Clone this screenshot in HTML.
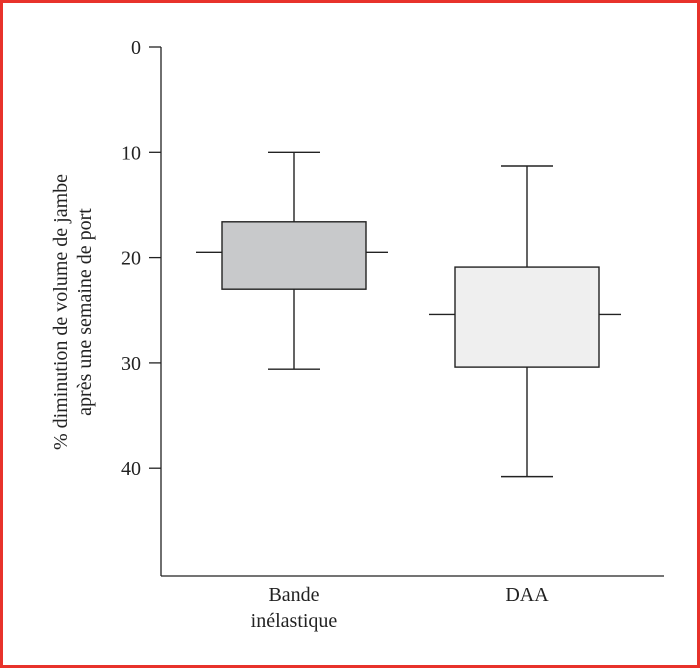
<!DOCTYPE html>
<html><head><meta charset="utf-8"><style>
body{margin:0;background:#fff}
#wrap{position:relative;width:700px;height:668px;box-sizing:border-box;border:3px solid #e8322b;background:#fff}
svg{position:absolute;left:0;top:0}
text{font-family:"Liberation Serif",serif;fill:#222}
</style></head><body>
<div id="wrap">
<svg id="c" width="700" height="668"></svg>
</div>
<script>
const categories = [["Bande","inélastique"],["DAA"]];
const whiskerLow = [10, 11.3];
const q1 = [16.6, 20.9];
const median = [19.5, 25.4];
const q3 = [23.0, 30.4];
const whiskerHigh = [30.6, 40.8];
const fills = ["#c8c9cb","#efefef"];
const yTicks = [0,10,20,30,40];

const NS="http://www.w3.org/2000/svg";
const svg=document.getElementById('c');
const y0=44, pxPer=10.53, axisX=158, axisBottom=573;
const y=v=>y0+v*pxPer;
const xc=i=>291+i*233;
function mk(tag,attrs){const e=document.createElementNS(NS,tag);for(const k in attrs)e.setAttribute(k,attrs[k]);svg.appendChild(e);return e;}

let e=mk('line',{x1:axisX,y1:y0,x2:axisX,y2:axisBottom,stroke:'#222','stroke-width':1.3});


e=mk('line',{x1:axisX,y1:axisBottom,x2:661,y2:axisBottom,stroke:'#222','stroke-width':1.3});



yTicks.forEach(t=>{
  let l=mk('line',{x1:146,y1:y(t),x2:axisX,y2:y(t),stroke:'#222','stroke-width':1.3});
  
  
  let tx=mk('text',{x:138,y:y(t)+7,'text-anchor':'end','font-size':20});
  tx.textContent=t;
  
  
});

let yt=mk('text',{transform:'translate(64,309) rotate(-90)','text-anchor':'middle','font-size':20});


let s1=document.createElementNS(NS,'tspan');s1.setAttribute('x',0);s1.setAttribute('dy',0);s1.textContent='% diminution de volume de jambe';yt.appendChild(s1);
let s2=document.createElementNS(NS,'tspan');s2.setAttribute('x',0);s2.setAttribute('dy',24);s2.textContent='après une semaine de port';yt.appendChild(s2);

categories.forEach((cat,i)=>{
  const cx=xc(i), hw=72;
  let g=document.createElementNS(NS,'g');svg.appendChild(g);
  
  
  const add=(tag,a)=>{const el=document.createElementNS(NS,tag);for(const k in a)el.setAttribute(k,a[k]);g.appendChild(el);return el;};
  const st={stroke:'#222','stroke-width':1.4};
  add('line',Object.assign({x1:cx,y1:y(whiskerLow[i]),x2:cx,y2:y(whiskerHigh[i])},st));
  add('line',Object.assign({x1:cx-26,y1:y(whiskerLow[i]),x2:cx+26,y2:y(whiskerLow[i])},st));
  add('line',Object.assign({x1:cx-26,y1:y(whiskerHigh[i]),x2:cx+26,y2:y(whiskerHigh[i])},st));
  add('line',Object.assign({x1:cx-hw-26,y1:y(median[i]),x2:cx+hw+22,y2:y(median[i])},st));
  add('rect',Object.assign({x:cx-hw,y:y(q1[i]),width:hw*2,height:y(q3[i])-y(q1[i]),fill:fills[i]},st));
  let tx=mk('text',{x:cx,y:598,'text-anchor':'middle','font-size':20});
  
  
  cat.forEach((ln,j)=>{const sp=document.createElementNS(NS,'tspan');sp.setAttribute('x',cx);sp.setAttribute('dy',j?26:0);sp.textContent=ln;tx.appendChild(sp);});
});
</script>
</body></html>
